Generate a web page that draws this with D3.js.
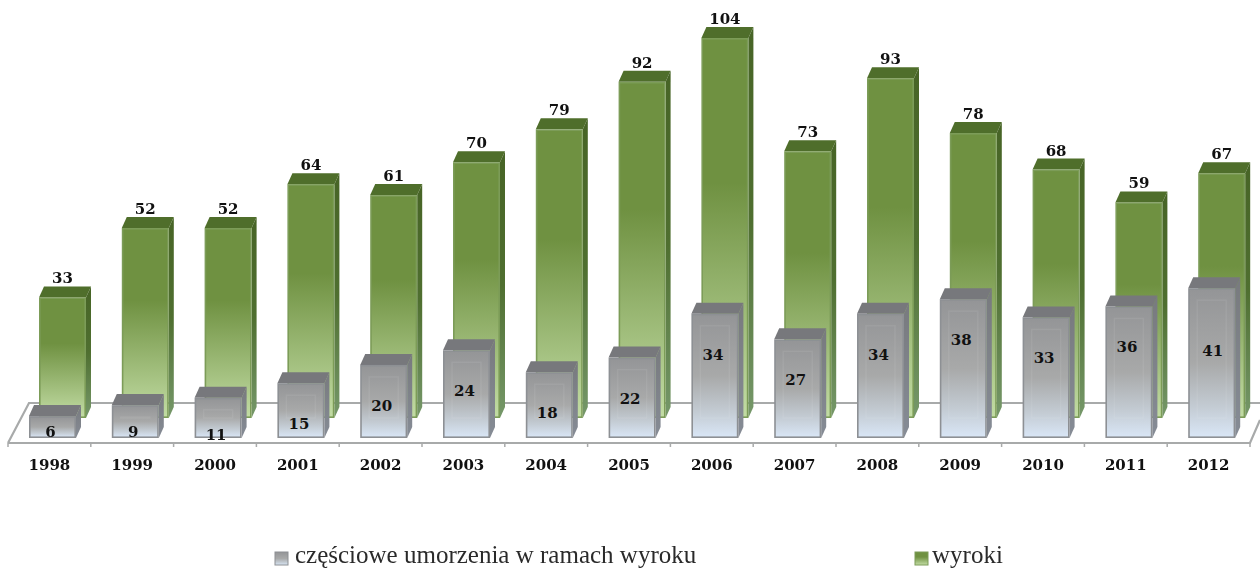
<!DOCTYPE html>
<html>
<head>
<meta charset="utf-8">
<script src="https://cdn.jsdelivr.net/npm/d3@7"></script>
<style>
  html, body { margin: 0; padding: 0; background: #fff; overflow: hidden; }
  svg { display: block; filter: blur(0.4px); }
  .lab { font-family: "DejaVu Serif", serif; font-weight: bold; font-size: 15px; fill: #111; text-anchor: middle; }
  .leg { font-family: "Liberation Serif", serif; font-size: 25px; fill: #2a2a2a; }
</style>
</head>
<body>
<svg id="chart" width="1260" height="569"></svg>
<script>
"use strict";

const years = ["1998", "1999", "2000", "2001", "2002", "2003", "2004", "2005", "2006", "2007", "2008", "2009", "2010", "2011", "2012"];
const wyroki = [33, 52, 52, 64, 61, 70, 79, 92, 104, 73, 93, 78, 68, 59, 67];
const umorzenia = [6, 9, 11, 15, 20, 24, 18, 22, 34, 27, 34, 38, 33, 36, 41];
const legendLabels = ["częściowe umorzenia w ramach wyroku", "wyroki"];

const svg = d3.select("#chart");
const defs = svg.append("defs");

function gradient(id, stops) {
   const g = defs.append("linearGradient").attr("id", id)
      .attr("x1", 0).attr("y1", 0).attr("x2", 0).attr("y2", 1);
   stops.forEach(s => g.append("stop").attr("offset", s[0]).attr("stop-color", s[1]));
}
gradient("greenFront", [[0, "#6f9141"], [0.38, "#6f9141"], [1, "#c2dca4"]]);
gradient("greenSide", [[0, "#476426"], [0.5, "#4f6f30"], [1, "#76986a"]]);
gradient("grayFront", [[0, "#949597"], [0.5, "#a8a9a9"], [0.8, "#c4ccd4"], [1, "#d9e6f6"]]);
gradient("graySide", [[0, "#787a7e"], [1, "#868c96"]]);

// shared scales
const x = d3.scaleBand().domain(years).range([8, 1250]);
const y = d3.scaleLinear().domain([0, 104]).range([0, 380]);

const barW = 47, depthX = 5, depthY = 11;

// floor
const floorFront = 443, floorBack = 403;
const floor = svg.append("g").attr("fill", "none").attr("stroke", "#a8aaaa").attr("stroke-width", 2.2);
floor.append("path").attr("d", `M8,${floorFront}L29,${floorBack}L1260,${floorBack}`);
floor.append("path").attr("d", `M1260,${floorBack + 17}L1250,${floorFront}L8,${floorFront}`);
floor.selectAll("line").data(x.domain().concat("end")).join("line")
   .attr("x1", d => d === "end" ? x.range()[1] : x(d))
   .attr("x2", d => d === "end" ? x.range()[1] : x(d))
   .attr("y1", floorFront).attr("y2", floorFront + 4)
   .attr("stroke-width", 1.5);

// 3D bars: one series at a time, back row first
function drawBars(values, opt) {
   const row = svg.append("g");
   const bar = row.selectAll("g").data(values).join("g")
      .attr("transform", (d, i) => `translate(${x(years[i]) + opt.shift},${opt.base})`);

   bar.append("path")
      .attr("d", d => `M0,${-y(d)}L${depthX},${-y(d) - depthY}H${barW + depthX}L${barW},${-y(d)}Z`)
      .attr("fill", opt.top);
   bar.append("path")
      .attr("d", d => `M${barW},${-y(d)}L${barW + depthX},${-y(d) - depthY}V${-depthY}L${barW},0Z`)
      .attr("fill", `url(#${opt.side})`);
   bar.append("rect")
      .attr("x", 0.8).attr("width", barW - 1.6)
      .attr("y", d => -y(d) + 0.8)
      .attr("height", d => y(d) - 1.6)
      .attr("fill", `url(#${opt.front})`)
      .attr("stroke", opt.stroke).attr("stroke-width", 1.6);
   return bar;
}

const greenBars = drawBars(wyroki, { shift: 31, base: 418, top: "#4f6e2b", side: "greenSide", front: "greenFront", stroke: "#7c9c58" });
const grayBars = drawBars(umorzenia, { shift: 21, base: 438, top: "#77787c", side: "graySide", front: "grayFront", stroke: "#8d9094" });

// inner bevel seen on the gray fronts
grayBars.append("rect")
   .attr("x", 9).attr("width", barW - 18)
   .attr("y", d => -y(d) + 12)
   .attr("height", d => Math.max(0, y(d) - 32))
   .attr("fill", "none").attr("stroke", "#ffffff").attr("stroke-opacity", 0.07).attr("stroke-width", 1.5);

// value labels
greenBars.append("text").attr("class", "lab")
   .attr("x", barW / 2)
   .attr("y", d => -y(d) - depthY - 3)
   .text(d => d);

grayBars.append("text").attr("class", "lab")
   .attr("x", (d, i) => barW / 2 - 2 + (years[i] === "2012" ? 3 : 0))
   .attr("y", (d, i) => {
      const pos = Math.min(-y(d) + 46, -1);
      if (years[i] === "2012") return pos + 22;
      return years[i] === "2000" ? pos + 3 : pos;
   })
   .text(d => d);

// category labels
svg.append("g").selectAll("text").data(years).join("text")
   .attr("class", "lab")
   .attr("x", d => x(d) + x.bandwidth() / 2)
   .attr("y", 470)
   .text(d => d);

// legend
const legend = svg.append("g").selectAll("g").data(legendLabels).join("g")
   .attr("transform", (d, i) => `translate(${i === 0 ? 275 : 915},0)`);
legend.append("rect")
   .attr("x", 0).attr("y", 552).attr("width", 13).attr("height", 13)
   .attr("fill", (d, i) => i === 0 ? "url(#grayFront)" : "url(#greenFront)")
   .attr("stroke", (d, i) => i === 0 ? "#8d9094" : "#7c9c58");
legend.append("text").attr("class", "leg")
   .attr("x", (d, i) => i === 0 ? 20 : 17)
   .attr("y", 563)
   .text(d => d);
</script>
</body>
</html>
